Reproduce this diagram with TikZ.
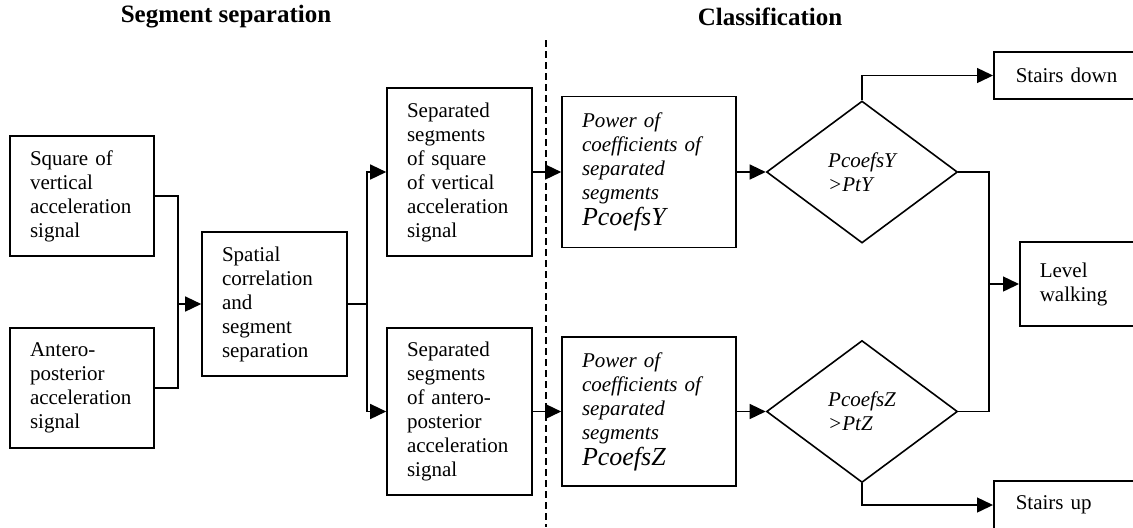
\documentclass[tikz,border=0pt]{standalone}
\usepackage{fontspec}
\setmainfont{Liberation Serif}
\usetikzlibrary{arrows.meta,positioning,shapes.geometric}

\begin{document}
\begin{tikzpicture}[
  x=0.5pt, y=-0.5pt,
  every node/.style={font=\fontsize{10.5}{12}\selectfont},
  blk/.style={draw, rectangle, line width=0.8pt, inner xsep=10pt,
              inner ysep=2pt, align=left},
  pw/.style={blk, font=\fontsize{10.5}{12}\selectfont\itshape},
  dec/.style={draw, diamond, line width=0.8pt, inner sep=0pt,
              minimum width=95.5pt, minimum height=71pt, align=left,
              font=\fontsize{10.5}{12}\selectfont\itshape},
  res/.style={blk, anchor=west, inner xsep=11pt},
  ttl/.style={font=\fontsize{12.5}{15}\selectfont\bfseries},
  ln/.style={line width=0.7pt},
  arr/.style={ln, -{Triangle[length=8pt,width=7.5pt]}},
  sep/.style={line width=0.7pt, dash pattern=on 3.5pt off 2pt}
]
  \useasboundingbox (0,0) rectangle (1133,527);

  \node[ttl] (tseg) at (226,17) {Segment separation};
  \node[ttl] (tcls) at (770,17) {Classification};

  \node[blk, text width=52pt, minimum height=60pt] (sqv) at (82,196)
       {Square of\\ vertical\\ acceleration\\ signal};
  \node[blk, text width=52pt, minimum height=60pt] (ant) at (82,388)
       {Antero-\\ posterior\\ acceleration\\ signal};
  \node[blk, text width=52.5pt, minimum height=72pt] (spat) at (274.5,304)
       {Spatial\\ correlation\\ and\\ segment\\ separation};

  \node[blk, text width=52.5pt, minimum height=84pt] (sepv) at (459.5,172)
       {Separated\\ segments\\ of square\\ of vertical\\ acceleration\\ signal};
  \node[blk, text width=52.5pt, minimum height=83.5pt] (sepa) at (459.5,411.5)
       {Separated\\ segments\\ of antero-\\ posterior\\ acceleration\\ signal};

  \node[pw, text width=67pt, minimum height=75.5pt] (powy) at (649,172)
       {Power of\\ coefficients of\\ separated\\ segments\\[1pt]
        {\fontsize{13}{14}\selectfont PcoefsY}};
  \node[pw, text width=67pt, minimum height=74.5pt] (powz) at (649,411.5)
       {Power of\\ coefficients of\\ separated\\ segments\\[1pt]
        {\fontsize{13}{14}\selectfont PcoefsZ}};

  \node[dec] (dy) at (862,172) {PcoefsY\\ >PtY};
  \node[dec] (dz) at (862,411.5) {PcoefsZ\\ >PtZ};

  \node[res, text width=54pt, minimum height=23.5pt] (down) at (993,75.5)
       {Stairs down};
  \node[res, inner xsep=10pt, text width=43pt, minimum height=42pt] (level)
       at (1019,284) {Level\\ walking};
  \node[res, text width=54pt, minimum height=24pt] (up) at (993,505)
       {Stairs up};

  \coordinate (j1) at (178,304);
  \coordinate (j2) at (367,304);
  \coordinate (j3) at (989,284);

  \draw[ln] (sqv.east) -| (j1) |- (ant.east);
  \draw[arr] (j1) -- (spat.west);
  \draw[ln] (spat.east) -- (j2);
  \draw[arr] (j2) |- (sepv.west);
  \draw[arr] (j2) |- (sepa.west);

  \draw[arr] (sepv) -- (powy);
  \draw[arr] (sepa) -- (powz);
  \draw[arr] (powy) -- (dy);
  \draw[arr] (powz) -- (dz);

  \draw[arr] (dy.north) |- (down.west);
  \draw[arr] (dz.south) |- (up.west);
  \draw[ln] (dy.east) -| (j3) |- (dz.east);
  \draw[arr] (j3) -- (level.west);

  \draw[sep] (546,40) -- (546,527);
\end{tikzpicture}
\end{document}
